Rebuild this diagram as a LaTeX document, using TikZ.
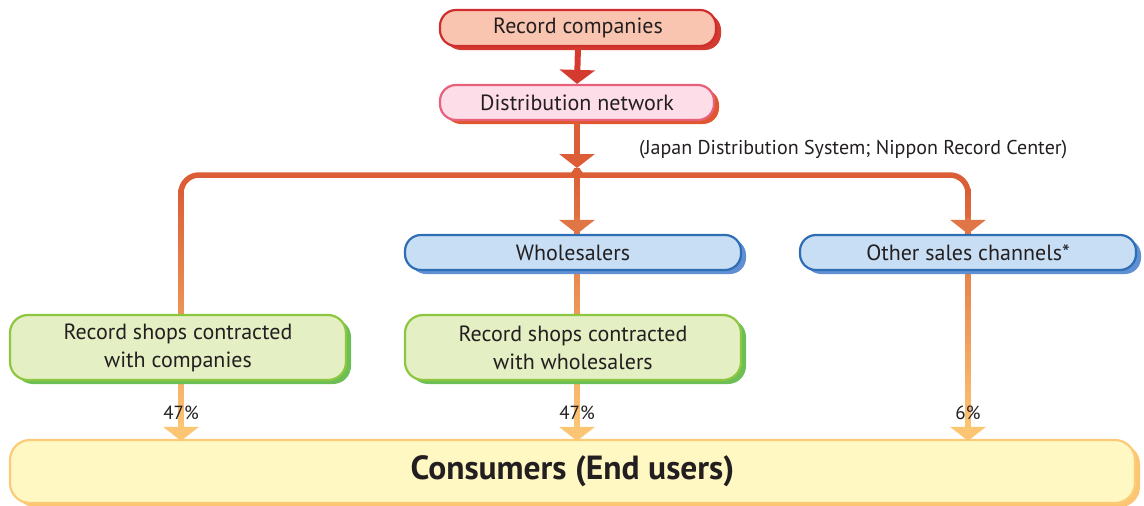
\documentclass[tikz,border=0pt]{standalone}
\usepackage{fontspec}
\setmainfont{PT Sans}
\usetikzlibrary{arrows.meta,shadows,calc}
\definecolor{txt}{HTML}{231F20}
\definecolor{rcfill}{HTML}{F9C5B0}
\definecolor{rcdraw}{HTML}{CF2E2E}
\definecolor{rcshadow}{HTML}{D33A2F}
\definecolor{dnfill}{HTML}{FCDDE8}
\definecolor{dndraw}{HTML}{E9607B}
\definecolor{dnshadow}{HTML}{E0572F}
\definecolor{bfill}{HTML}{C7DEF4}
\definecolor{bdraw}{HTML}{2F6EB5}
\definecolor{bshadow}{HTML}{6090D3}
\definecolor{gfill}{HTML}{E4EFC3}
\definecolor{gdraw}{HTML}{8DC63F}
\definecolor{gshadow}{HTML}{6CBF57}
\definecolor{cfill}{HTML}{FFF8C3}
\definecolor{cdraw}{HTML}{FDCB78}
\definecolor{cshadow}{HTML}{FCC574}
\definecolor{redarrow}{HTML}{D43B2E}
\definecolor{oA}{HTML}{DB5E36}
\definecolor{oB}{HTML}{E07545}
\definecolor{oL}{HTML}{FCC574}
\tikzset{
  box/.style={rectangle, rounded corners=16pt, line width=2.2pt, text=txt,
    font=\fontsize{22}{28}\selectfont, align=center, inner sep=0pt},
  rcbox/.style={box, fill=rcfill, draw=rcdraw,
    drop shadow={shadow xshift=5pt, shadow yshift=-4pt, fill=rcshadow, opacity=1}},
  dnbox/.style={box, fill=dnfill, draw=dndraw,
    drop shadow={shadow xshift=5pt, shadow yshift=-4pt, fill=dnshadow, opacity=1}},
  bluebox/.style={box, fill=bfill, draw=bdraw,
    drop shadow={shadow xshift=5pt, shadow yshift=-4pt, fill=bshadow, opacity=1}},
  greenbox/.style={box, rounded corners=18pt, fill=gfill, draw=gdraw,
    drop shadow={shadow xshift=5pt, shadow yshift=-4pt, fill=gshadow, opacity=1}},
  consbox/.style={box, rounded corners=20pt, fill=cfill, draw=cdraw,
    font=\bfseries\fontsize{33.5}{38}\selectfont,
    drop shadow={shadow xshift=5pt, shadow yshift=-4pt, fill=cshadow, opacity=1}},
  tip/.style={-{Triangle[length=14pt,width=35pt]}},
  wire/.style={line width=5.5pt},
  pct/.style={text=txt, font=\fontsize{19}{22}\selectfont, inner sep=0pt},
}
\begin{document}
\begin{tikzpicture}[x=1pt,y=-1pt]
\useasboundingbox (0,0) rectangle (1144,506);
% coordinates for connector routing
\coordinate (jn) at (577,168);
\coordinate (lc) at (181,175);
\coordinate (rcn) at (968,175);
\coordinate (cons-top) at (577,440);
% vertical gradient connectors (behind the boxes)
\shade[top color=oA, bottom color=oL] ($(lc)+(-2.75,14)$) rectangle ($(lc |- cons-top)+(2.75,-14)$);
\shade[top color=oA, bottom color=oL] ($(jn)+(-2.75,0)$) rectangle ($(jn |- cons-top)+(2.75,-14)$);
\shade[top color=oA, bottom color=oL] ($(rcn)+(-2.75,14)$) rectangle ($(rcn |- cons-top)+(2.75,-14)$);
% horizontal branch lines
\draw[wire, draw=oA, rounded corners=18pt] ($(jn)+(0,1)$) .. controls ($(jn)+(-1,5)$) and ($(jn)+(-7,7)$) .. ($(jn)+(-18,7)$) -- (lc) -- ($(lc)+(0,20)$);
\draw[wire, draw=oA, rounded corners=18pt] ($(jn)+(0,1)$) .. controls ($(jn)+(1,5)$) and ($(jn)+(7,7)$) .. ($(jn)+(18,7)$) -- (rcn) -- ($(rcn)+(0,20)$);
% nodes
\node[rcbox, minimum width=276pt, minimum height=36pt] (rc) at (578,28) {Record companies};
\node[dnbox, minimum width=274pt, minimum height=35pt] (dn) at (577,102.5) {Distribution network};
\node[bluebox, minimum width=336pt, minimum height=35pt] (wh) at (573,252.5) {Wholesalers};
\node[bluebox, minimum width=336pt, minimum height=35pt] (osc) at (968,252.5) {Other sales channels*};
\node[greenbox, minimum width=336pt, minimum height=65pt] (rsc) at (178,347.5) {Record shops contracted\\with companies};
\node[greenbox, minimum width=336pt, minimum height=65pt] (rsw) at (573,347.5) {Record shops contracted\\with wholesalers};
\node[consbox, minimum width=1125pt, minimum height=63pt] (cons) at (572.5,471.5) {Consumers (End users)};
% caption
\node[anchor=west, text=txt, font=\fontsize{20}{23}\selectfont, inner sep=0pt] (cap) at (639,150) {(Japan Distribution System; Nippon Record Center)};
% arrows
\draw[wire, line width=6pt, draw=redarrow, fill=redarrow, tip] (rc.south) -- (dn.north);
\draw[wire, draw=oA, fill=oA, tip] (dn.south) -- (jn);
\draw[wire, draw=oB, fill=oB, tip] ($(wh.north -| jn)+(0,-16)$) -- (wh.north -| jn);
\draw[wire, draw=oB, fill=oB, tip] ($(osc.north -| rcn)+(0,-16)$) -- (osc.north -| rcn);
\draw[wire, draw=oL, fill=oL, tip] ($(cons.north -| lc)+(0,-16)$) -- ($(cons.north -| lc)+(0,2)$);
\draw[wire, draw=oL, fill=oL, tip] ($(cons.north -| jn)+(0,-16)$) -- ($(cons.north -| jn)+(0,2)$);
\draw[wire, draw=oL, fill=oL, tip] ($(cons.north -| rcn)+(0,-16)$) -- ($(cons.north -| rcn)+(0,2)$);
% percentages
\node[pct] (p1) at (181,413) {47\%};
\node[pct] (p2) at (577,413) {47\%};
\node[pct] (p3) at (968,413) {6\%};
\end{tikzpicture}
\end{document}
